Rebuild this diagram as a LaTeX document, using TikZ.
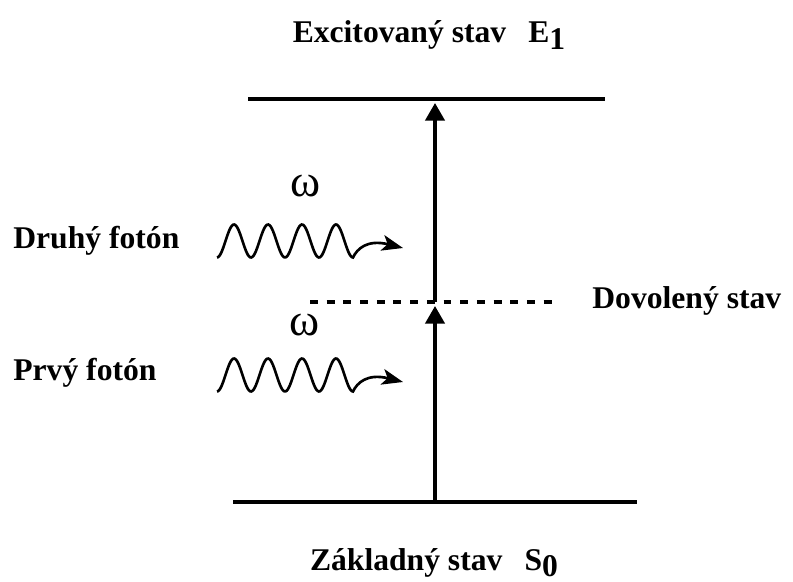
\documentclass[tikz,border=0pt]{standalone}
\usepackage{fontspec}
\setmainfont{Liberation Serif}
\usetikzlibrary{arrows.meta}

\begin{document}
\begin{tikzpicture}[
  x=0.02cm, y=-0.02cm,
  level/.style={line width=2.6pt},
  allowed/.style={line width=2pt, dash pattern=on 4.5pt off 5pt},
  transition/.style={line width=1.8pt, -{Triangle[width=11pt,length=10pt]}, shorten >=2.3pt},
  photon/.style={line width=1.5pt, -{Stealth[width=9pt,length=12pt,inset=3pt]}},
  lbl/.style={font=\fontsize{18}{21}\selectfont\bfseries, inner sep=0pt},
  freq/.style={font=\fontsize{26}{28}\selectfont, inner sep=0pt},
]
\useasboundingbox (0,0) rectangle (793,581);
% energy levels
\coordinate (e0) at (248,99);
\coordinate (e1) at (605,99);
\coordinate (g0) at (233,502);
\coordinate (g1) at (637,502);
\coordinate (d0) at (310,302);
\coordinate (d1) at (558,302);
\coordinate (e) at (435,99);
\coordinate (m) at (435,302);
\coordinate (g) at (435,502);
\draw[level] (e0) -- (e1);
\draw[level] (g0) -- (g1);
\draw[allowed] (d0) -- (d1);
% absorption steps
\draw[transition] (g) -- (m);
\draw[transition] (m) -- (e);
% labels
\node[lbl, anchor=base] (exc) at (429,43) {Excitovaný stav\hspace{0.45em} E\raisebox{-0.45ex}{1}};
\node[lbl, anchor=base] (zakl) at (434,570) {Základný stav\hspace{0.45em} S\raisebox{-0.45ex}{0}};
\node[lbl, anchor=base west] (dov) at (592,308) {Dovolený stav};
\node[lbl, anchor=base west] (druhy) at (13,248) {Druhý fotón};
\node[lbl, anchor=base west] (prvy) at (13,380) {Prvý fotón};
% second photon
\begin{scope}[shift={(217,241)}]
\node[freq] (w2) at (89,-55) {ω};
\coordinate (p2) at (186,7);
\draw[photon] plot[domain=0:136, samples=120] (\x,{16.5*cos(360/34*\x)})
  .. controls (140,8) and (150,-2) .. (p2);
\end{scope}
% first photon
\begin{scope}[shift={(217,375)}]
\node[freq] (w1) at (88,-50) {ω};
\coordinate (p1) at (186,7);
\draw[photon] plot[domain=0:136, samples=120] (\x,{16.5*cos(360/34*\x)})
  .. controls (140,8) and (150,-2) .. (p1);
\end{scope}
\end{tikzpicture}
\end{document}
